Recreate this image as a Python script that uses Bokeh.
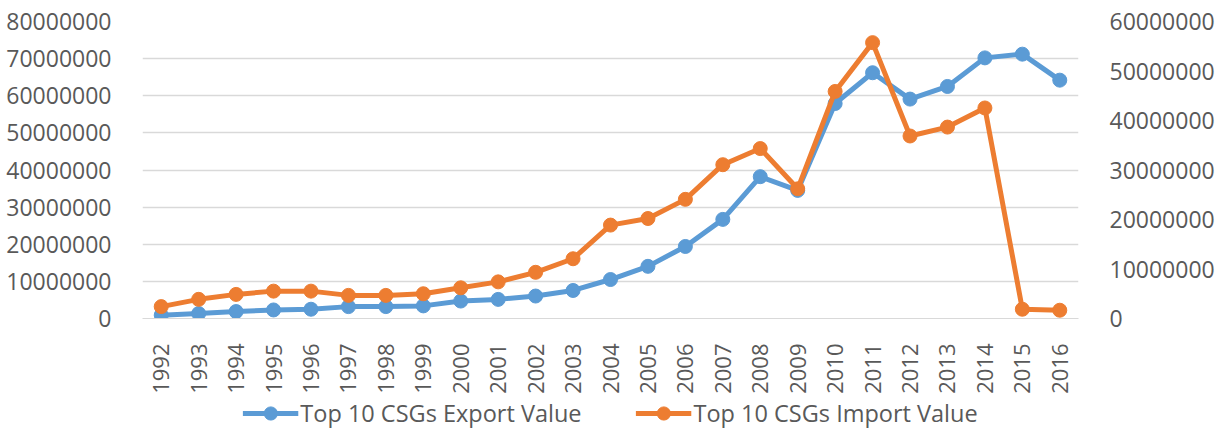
import math
from bokeh.plotting import figure
from bokeh.layouts import column
from bokeh.models import (LinearAxis, Range1d, NumeralTickFormatter, SingleIntervalTicker,
                          Legend, LegendItem, ColumnDataSource, FactorRange)
from bokeh.embed import file_html
from bokeh.resources import INLINE

years = ["1992", "1993", "1994", "1995", "1996", "1997", "1998", "1999", "2000",
         "2001", "2002", "2003", "2004", "2005", "2006", "2007", "2008", "2009",
         "2010", "2011", "2012", "2013", "2014", "2015", "2016"]
export_value = [900000, 1330000, 1870000, 2300000, 2500000, 3200000, 3200000, 3400000,
                4700000, 5150000, 6050000, 7550000, 10500000, 14050000, 19400000,
                26700000, 38200000, 34500000, 57900000, 66200000, 59100000, 62500000,
                70200000, 71200000, 64200000]
import_value = [2400000, 3870000, 4870000, 5530000, 5530000, 4670000, 4670000, 5000000,
                6200000, 7400000, 9330000, 12070000, 18870000, 20200000, 24070000,
                31070000, 34330000, 26200000, 45870000, 55730000, 36870000, 38670000,
                42530000, 1870000, 1670000]
series_names = ["Top 10 CSGs Export Value", "Top 10 CSGs Import Value"]

BLUE = "#5B9BD5"
ORANGE = "#ED7D31"
GREY = "#595959"
FONT = "Open Sans"

src = ColumnDataSource(dict(year=years, exp=export_value, imp=import_value))

p = figure(width=1219, height=396, x_range=FactorRange(*years),
           y_range=Range1d(0, 80000000), output_backend="svg", toolbar_location=None,
           min_border_left=142, min_border_right=141, min_border_top=21,
           min_border_bottom=75)
p.x_range.range_padding = 0
p.extra_y_ranges = {"right": Range1d(0, 60000000)}
p.outline_line_color = None
p.background_fill_color = "white"
p.border_fill_color = "white"

# left axis
ya = p.yaxis[0]
ya.ticker = SingleIntervalTicker(interval=10000000)
ya.formatter = NumeralTickFormatter(format="0")
ya.axis_line_color = None
ya.major_tick_line_color = None
ya.minor_tick_line_color = None
ya.major_label_standoff = 25
ya.major_label_text_font = FONT
ya.major_label_text_font_size = "23px"
ya.major_label_text_color = GREY

# right axis
ra = LinearAxis(y_range_name="right")
ra.ticker = SingleIntervalTicker(interval=10000000)
ra.formatter = NumeralTickFormatter(format="0")
ra.axis_line_color = None
ra.major_tick_line_color = None
ra.minor_tick_line_color = None
ra.major_label_standoff = 25
ra.major_label_text_font = FONT
ra.major_label_text_font_size = "23px"
ra.major_label_text_color = GREY
p.add_layout(ra, "right")

# x axis
xa = p.xaxis[0]
xa.axis_line_color = "#D9D9D9"
xa.major_tick_line_color = None
xa.minor_tick_line_color = None
xa.major_label_orientation = math.pi / 2
xa.major_label_standoff = 19
xa.major_label_text_font = FONT
xa.major_label_text_font_size = "22px"
xa.major_label_text_color = GREY

p.xgrid.grid_line_color = None
p.ygrid.grid_line_color = "#D9D9D9"
p.ygrid.grid_line_width = 1.3

p.line("year", "exp", source=src, line_color=BLUE, line_width=5)
p.scatter("year", "exp", source=src, size=14, fill_color=BLUE, line_color=BLUE)
p.line("year", "imp", source=src, line_color=ORANGE, line_width=5, y_range_name="right")
p.scatter("year", "imp", source=src, size=14, fill_color=ORANGE, line_color=ORANGE,
          y_range_name="right")

# legend strip (separate figure below the chart); its glyphs sit outside its view
lg = figure(width=1219, height=33, x_range=Range1d(0, 1), y_range=Range1d(0, 1),
            output_backend="svg", toolbar_location=None, min_border=0,
            min_border_left=21)
lg.axis.visible = False
lg.grid.grid_line_color = None
lg.outline_line_color = None
off = dict(x=[-10, -9], y=[-10, -10])
d1 = lg.line(off["x"], off["y"], line_color=BLUE, line_width=5)
d1s = lg.scatter(off["x"][:1], off["y"][:1], size=14, fill_color=BLUE, line_color=BLUE)
d2 = lg.line(off["x"], off["y"], line_color=ORANGE, line_width=5)
d2s = lg.scatter(off["x"][:1], off["y"][:1], size=14, fill_color=ORANGE, line_color=ORANGE)
legend = Legend(items=[LegendItem(label=series_names[0], renderers=[d1, d1s]),
                       LegendItem(label=series_names[1], renderers=[d2, d2s])],
                orientation="horizontal", location="center",
                border_line_color=None, background_fill_alpha=0,
                label_text_font=FONT, label_text_font_size="23.5px",
                label_text_color=GREY, glyph_width=56, glyph_height=33,
                label_height=24, spacing=54, padding=0, margin=0,
                label_standoff=2)
lg.add_layout(legend)

open("out.html", "w").write(file_html(column(p, lg, spacing=0), INLINE))
